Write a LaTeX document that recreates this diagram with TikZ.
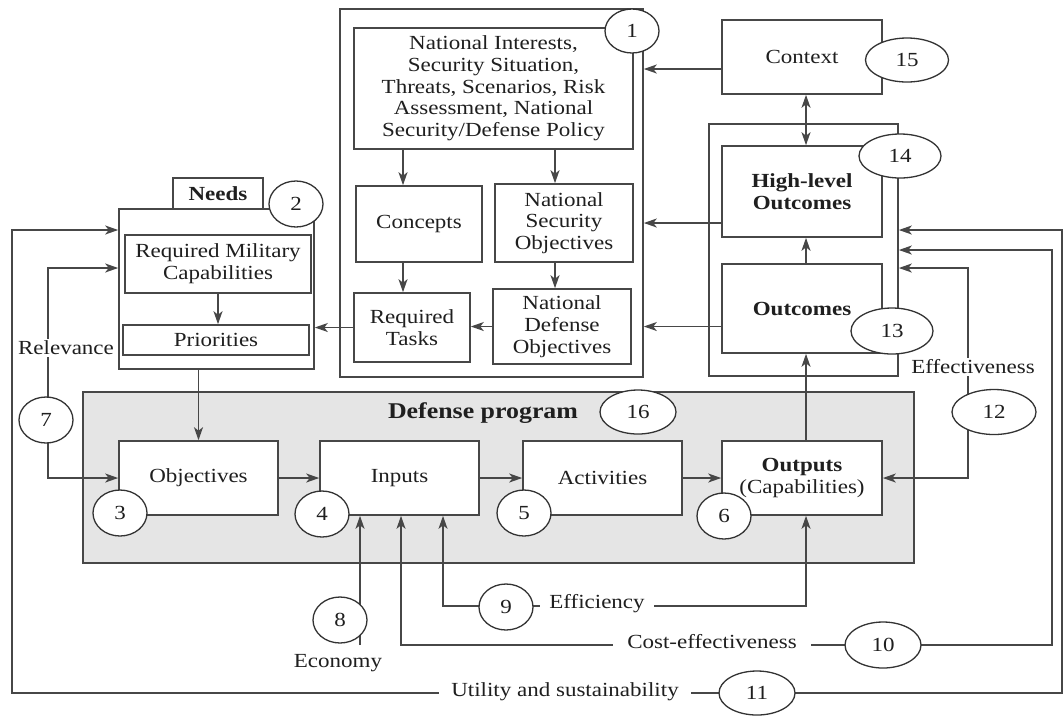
\documentclass[tikz,border=0pt]{standalone}
\usepackage{fontspec}
\setmainfont{Liberation Serif}[FakeStretch=1.15]
\usetikzlibrary{shapes.geometric,arrows.meta,calc}
\begin{document}
\begin{tikzpicture}[x=1pt,y=-1pt,
  every node/.style={font=\fontsize{20}{21.7}\selectfont, text=black!88},
  bx/.style={draw=black!72, line width=1.6pt, fill=white, rectangle, inner sep=0pt, align=center},
  num/.style={draw=black!80, line width=1.3pt, fill=white, ellipse, inner sep=0pt, minimum width=54pt, minimum height=46pt},
  wide/.style={num, minimum width=82pt, minimum height=44pt},
  lbl/.style={fill=white, inner xsep=10pt, inner ysep=2pt},
  ln/.style={draw=black!72, line width=1.5pt},
  arr/.style={ln, -{Stealth[length=13pt,width=9pt,inset=3.5pt]}},
  darr/.style={ln, {Stealth[length=13pt,width=9pt,inset=3.5pt]}-{Stealth[length=13pt,width=9pt,inset=3.5pt]}},
]
\fill[white] (0,0) rectangle (1064,716);
\useasboundingbox (0,0) rectangle (1064,716);

% helper coordinates
\coordinate (ax1) at (403,0);
\coordinate (ax2) at (555,0);
\coordinate (ox) at (806,0);
\coordinate (ry) at (0,268);
\coordinate (rx) at (48,0);
\coordinate (uy) at (0,230);
\coordinate (ub) at (0,693);
\coordinate (uxl) at (12,0);
\coordinate (uxr) at (1062,0);
\coordinate (cx) at (401,0);
\coordinate (cy) at (0,645);
\coordinate (cr) at (1052,0);
\coordinate (c10y) at (0,250);
\coordinate (fx) at (443,0);
\coordinate (fy) at (0,606);
\coordinate (ex) at (968,0);
\coordinate (ey) at (0,268);
\coordinate (econ) at (360,645);

% group 1
\node[bx, minimum width=303pt, minimum height=368pt] (outer1) at (491.5,193) {};
\node[bx, minimum width=279pt, minimum height=121pt] (ni) at (493.5,88.5) {National Interests,\\Security Situation,\\Threats, Scenarios, Risk\\Assessment, National\\Security/Defense Policy};
\node[bx, minimum width=126pt, minimum height=76pt] (concepts) at (419,224) {Concepts};
\node[bx, minimum width=138pt, minimum height=78pt] (nso) at (564,223) {National\\Security\\Objectives};
\node[bx, minimum width=116pt, minimum height=69pt] (rt) at (412,327.5) {Required\\Tasks};
\node[bx, minimum width=138pt, minimum height=75pt] (ndo) at (562,326.5) {National\\Defense\\Objectives};

% context and outcomes
\node[bx, minimum width=160pt, minimum height=74pt] (ctx) at (802,57) {Context};
\node[bx, minimum width=189pt, minimum height=252pt] (outer14) at (803.5,250) {};
\node[bx, minimum width=160pt, minimum height=91pt, font=\fontsize{20}{21.7}\selectfont\bfseries] (hlo) at (802,191.5) {High-level\\Outcomes};
\node[bx, minimum width=160pt, minimum height=89pt, font=\fontsize{20}{21.7}\selectfont\bfseries] (outc) at (802,308.5) {Outcomes};

% needs
\node[bx, minimum width=195pt, minimum height=160pt] (needs) at (216.5,289) {};
\node[bx, minimum width=90pt, minimum height=31pt, font=\fontsize{20}{21.7}\selectfont\bfseries] (tab) at (218,193.5) {Needs};
\node[bx, minimum width=186pt, minimum height=58pt] (rmc) at (218,264) {Required Military\\Capabilities};
\node[bx, minimum width=186pt, minimum height=30pt] (prio) at (216,340) {Priorities};

% defense program
\node[bx, fill=black!10, minimum width=831pt, minimum height=171pt] (dp) at (498.5,477.5) {};
\node[font=\fontsize{22.5}{24}\selectfont\bfseries] (dpt) at (483,413) {Defense program};
\node[bx, minimum width=159pt, minimum height=74pt] (obj) at (198.5,478) {Objectives};
\node[bx, minimum width=159pt, minimum height=74pt] (inputs) at (399.5,478) {Inputs};
\node[bx, minimum width=159pt, minimum height=74pt] (act) at (602.5,478) {Activities};
\node[bx, minimum width=160pt, minimum height=74pt] (outp) at (802,478) {\textbf{Outputs}\\(Capabilities)};

% arrows inside group 1
\draw[arr] (ni.south -| ax1) -- (concepts.north -| ax1);
\draw[arr] (ni.south -| ax2) -- (nso.north -| ax2);
\draw[arr] (concepts.south -| ax1) -- (rt.north -| ax1);
\draw[arr] (nso.south -| ax2) -- (ndo.north -| ax2);
\draw[arr] (ndo.west) -- (ndo.west -| rt.east);
\draw[arr] (rt.west) -- (rt.west -| needs.east);
\draw[arr] (rmc.south) -- (rmc.south |- prio.north);

% arrows from the right into group 1
\draw[arr] ([yshift=-12pt]ctx.west) -- ([yshift=-12pt]ctx.west -| outer1.east);
\draw[arr] (hlo.west |- nso) -- (nso -| outer1.east);
\draw[arr] (outc.west |- ndo) -- (ndo -| outer1.east);

% vertical arrows on the right column
\draw[darr] (ctx.south -| ox) -- (hlo.north -| ox);
\draw[arr] (outc.north -| ox) -- (hlo.south -| ox);
\draw[arr] (outp.north -| ox) -- (outc.south -| ox);

% program flow
\draw[arr] (needs.south -| obj.north) -- (obj.north);
\draw[arr] (obj.east) -- (inputs.west);
\draw[arr] (inputs.east) -- (act.west);
\draw[arr] (act.east) -- (outp.west);

% relevance loop
\draw[darr] (needs.west |- ry) -- (rx |- ry) -- (rx |- obj.west) -- (obj.west);
\node[lbl, inner xsep=2pt] (rel) at (66,348) {Relevance};

% utility loop
\draw[darr] (needs.west |- uy) -- (uxl |- uy) -- (uxl |- ub) -- (uxr |- ub) -- (uxr |- uy) -- (outer14.east |- uy);
\node[lbl, inner xsep=12pt] (util) at (565,692) {Utility and sustainability};

% cost-effectiveness loop
\draw[darr] (inputs.south -| cx) -- (cx |- cy) -- (cr |- cy) -- (cr |- c10y) -- (outer14.east |- c10y);
\node[lbl, inner xsep=14pt] (cost) at (712,642) {Cost-effectiveness};

% efficiency loop
\draw[darr] (inputs.south -| fx) -- (fx |- fy) -- (ox |- fy) -- (outp.south -| ox);
\node[lbl, inner xsep=9pt] (eff) at (597,604) {Efficiency};

% economy
\draw[arr] (econ) -- (econ |- inputs.south);
\node (econl) at (338,663) {Economy};

% effectiveness loop
\draw[darr] (outer14.east |- ey) -- (ex |- ey) -- (ex |- outp.east) -- (outp.east);
\node[lbl, inner xsep=3pt] (effv) at (973,367) {Effectiveness};

% numbered ellipses
\node[num, minimum height=44pt] (n1) at (632,31) {1};
\node[num] (n2) at (296,204) {2};
\node[num] (n3) at (120,513) {3};
\node[num] (n4) at (322,514) {4};
\node[num] (n5) at (524,513) {5};
\node[num] (n6) at (724,516) {6};
\node[num] (n7) at (46,420) {7};
\node[num] (n8) at (340,620) {8};
\node[num] (n9) at (506,607) {9};
\node[wide, minimum width=76pt, minimum height=46pt] (n10) at (883,645) {10};
\node[wide, minimum width=76pt] (n11) at (757,693) {11};
\node[wide, minimum width=84pt, minimum height=45pt] (n12) at (994,412) {12};
\node[wide, minimum height=46pt] (n13) at (892,331) {13};
\node[wide] (n14) at (900,156) {14};
\node[wide, minimum width=83pt] (n15) at (907,60) {15};
\node[wide, minimum width=76pt] (n16) at (638,412) {16};
\end{tikzpicture}
\end{document}
